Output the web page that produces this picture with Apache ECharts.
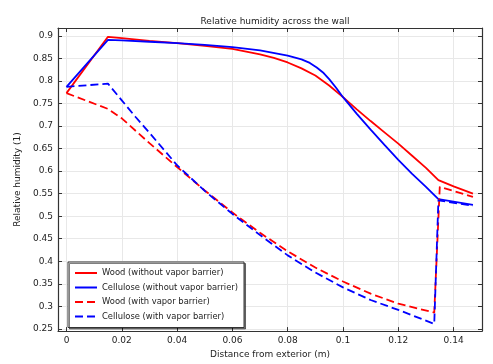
<!DOCTYPE html>
<html>
<head>
<meta charset="utf-8">
<script src="https://cdn.jsdelivr.net/npm/echarts@6/dist/echarts.min.js"></script>
<style>
  html, body { margin: 0; padding: 0; background: #fff; }
  #chart { width: 493px; height: 364px; }
</style>
</head>
<body>
<div id="chart"></div>
<script>
// tick labels
const xTicks = [0, 0.02, 0.04, 0.06, 0.08, 0.1, 0.12, 0.14]
const yTicks = [0.25, 0.3, 0.35, 0.4, 0.45, 0.5, 0.55, 0.6, 0.65, 0.7, 0.75, 0.8, 0.85, 0.9]

// Wood (without vapor barrier)
const woodNoBarrierX = [0, 0.015, 0.02, 0.03, 0.04, 0.05, 0.06, 0.07, 0.075, 0.08, 0.085, 0.09, 0.095, 0.1, 0.105, 0.11, 0.115, 0.12, 0.125, 0.13, 0.1345, 0.14, 0.147]
const woodNoBarrierY = [0.773, 0.898, 0.895, 0.889, 0.884, 0.878, 0.871, 0.859, 0.851, 0.841, 0.828, 0.812, 0.79, 0.764, 0.737, 0.711, 0.686, 0.661, 0.634, 0.607, 0.58, 0.566, 0.55]

// Cellulose (without vapor barrier)
const celluloseNoBarrierX = [0, 0.015, 0.02, 0.03, 0.04, 0.05, 0.06, 0.07, 0.08, 0.085, 0.088, 0.0905, 0.093, 0.095, 0.0975, 0.1, 0.105, 0.11, 0.115, 0.12, 0.125, 0.13, 0.1345, 0.147]
const celluloseNoBarrierY = [0.787, 0.891, 0.89, 0.887, 0.884, 0.88, 0.875, 0.868, 0.856, 0.848, 0.84, 0.83, 0.8175, 0.804, 0.785, 0.764, 0.727, 0.692, 0.658, 0.625, 0.594, 0.565, 0.538, 0.525]

// Wood (with vapor barrier)
const woodBarrierX = [0, 0.015, 0.02, 0.03, 0.04, 0.05, 0.06, 0.07, 0.08, 0.09, 0.1, 0.11, 0.12, 0.133, 0.135, 0.147]
const woodBarrierY = [0.773, 0.738, 0.717, 0.662, 0.609, 0.557, 0.508, 0.463, 0.422, 0.386, 0.355, 0.328, 0.306, 0.286, 0.565, 0.543]

// Cellulose (with vapor barrier)
const celluloseBarrierX = [0, 0.015, 0.02, 0.025, 0.03, 0.04, 0.05, 0.06, 0.07, 0.08, 0.09, 0.1, 0.11, 0.12, 0.133, 0.1345, 0.147]
const celluloseBarrierY = [0.787, 0.794, 0.757, 0.72, 0.685, 0.613, 0.556, 0.505, 0.458, 0.413, 0.375, 0.342, 0.314, 0.292, 0.261, 0.535, 0.523]

const zip = (xs, ys) => xs.map((x, i) => [x, ys[i]])

const chart = echarts.init(document.getElementById('chart'))

const font = 'DejaVu Sans'
const frameColor = '#333'
const gridColor = '#e8e8e8'

function lineSeries(name, xs, ys, color, dashed) {
  return {
    name: name,
    type: 'line',
    data: zip(xs, ys),
    symbol: 'none',
    animation: false,
    lineStyle: {
      color: color,
      width: 1.8,
      type: dashed ? [8, 4] : 'solid'
    },
    itemStyle: { color: color }
  }
}

chart.setOption({
  animation: false,
  title: {
    text: 'Relative humidity across the wall',
    left: 270,
    textAlign: 'center',
    top: 12,
    textStyle: { fontFamily: font, fontSize: 9, fontWeight: 'normal', color: '#222' }
  },
  grid: {
    left: 58,
    right: 11,
    top: 28,
    bottom: 28
  },
  legend: {
    orient: 'vertical',
    left: 68,
    top: 262,
    padding: [7, 6, 7, 6],
    itemGap: 6.5,
    itemWidth: 22,
    itemHeight: 9,
    itemStyle: { opacity: 0 },
    backgroundColor: '#fff',
    borderColor: frameColor,
    borderWidth: 1,
    borderRadius: 0,
    shadowColor: 'rgba(0,0,0,0.5)',
    shadowOffsetX: 1.5,
    shadowOffsetY: 1.5,
    shadowBlur: 0,
    textStyle: { fontFamily: font, fontSize: 8.4, color: '#222' },
    data: [
      'Wood (without vapor barrier)',
      'Cellulose (without vapor barrier)',
      'Wood (with vapor barrier)',
      'Cellulose (with vapor barrier)'
    ]
  },
  xAxis: [
    {
      type: 'value',
      min: -0.00307,
      max: 0.15027,
      name: 'Distance from exterior (m)',
      nameLocation: 'middle',
      nameGap: 12,
      nameTextStyle: { fontFamily: font, fontSize: 9, color: '#222' },
      axisLine: { show: true, onZero: false, lineStyle: { color: frameColor, width: 1.2 } },
      axisTick: { show: true, inside: true, length: 4, customValues: xTicks, lineStyle: { color: frameColor } },
      axisLabel: { customValues: xTicks, fontFamily: font, fontSize: 9, color: '#222', margin: 5 },
      splitLine: { show: true, lineStyle: { color: gridColor, width: 1 } }
    },
    {
      type: 'value',
      position: 'top',
      min: -0.00307,
      max: 0.15027,
      axisLine: { show: true, onZero: false, lineStyle: { color: frameColor, width: 1.2 } },
      axisTick: { show: true, inside: true, length: 4, customValues: xTicks, lineStyle: { color: frameColor } },
      axisLabel: { show: false },
      splitLine: { show: false }
    }
  ],
  yAxis: [
    {
      type: 'value',
      min: 0.245,
      max: 0.9175,
      name: 'Relative humidity (1)',
      nameLocation: 'middle',
      nameGap: 34,
      nameTextStyle: { fontFamily: font, fontSize: 9, color: '#222' },
      axisLine: { show: true, onZero: false, lineStyle: { color: frameColor, width: 1.2 } },
      axisTick: { show: true, inside: true, length: 4, customValues: yTicks, lineStyle: { color: frameColor } },
      axisLabel: { customValues: yTicks, fontFamily: font, fontSize: 9, color: '#222', margin: 5 },
      splitLine: { show: true, lineStyle: { color: gridColor, width: 1 } }
    },
    {
      type: 'value',
      position: 'right',
      min: 0.245,
      max: 0.9175,
      axisLine: { show: true, onZero: false, lineStyle: { color: frameColor, width: 1.2 } },
      axisTick: { show: true, inside: true, length: 4, customValues: yTicks, lineStyle: { color: frameColor } },
      axisLabel: { show: false },
      splitLine: { show: false }
    }
  ],
  series: [
    lineSeries('Wood (without vapor barrier)', woodNoBarrierX, woodNoBarrierY, '#ff0000', false),
    lineSeries('Cellulose (without vapor barrier)', celluloseNoBarrierX, celluloseNoBarrierY, '#0000ff', false),
    lineSeries('Wood (with vapor barrier)', woodBarrierX, woodBarrierY, '#ff0000', true),
    lineSeries('Cellulose (with vapor barrier)', celluloseBarrierX, celluloseBarrierY, '#0000ff', true)
  ]
})
</script>
</body>
</html>
